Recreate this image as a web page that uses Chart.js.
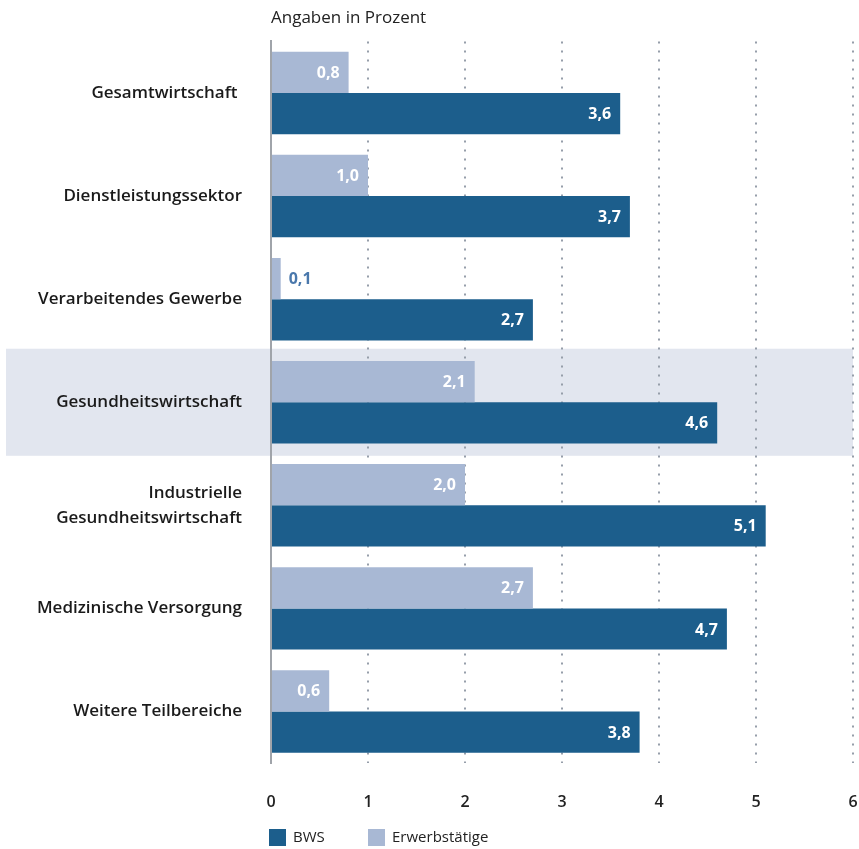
<!DOCTYPE html>
<html>
<head>
<meta charset="utf-8">
<script src="https://cdn.jsdelivr.net/npm/chart.js@4"></script>
<style>
  html, body { margin: 0; padding: 0; background: #fff; }
  #wrap { width: 859px; height: 849px; }
</style>
</head>
<body>
<div id="wrap"><canvas id="myChart1" width="859" height="849"></canvas></div>
<script>
const ctx = document.getElementById("myChart1").getContext("2d");

const labels = [
  "Gesamtwirtschaft ",
  "Dienstleistungssektor",
  "Verarbeitendes Gewerbe",
  "Gesundheitswirtschaft",
  ["Industrielle", "Gesundheitswirtschaft"],
  "Medizinische Versorgung",
  "Weitere Teilbereiche",
];
const erwerbstaetige = [0.8, 1.0, 0.1, 2.1, 2.0, 2.7, 0.6];
const bws = [3.6, 3.7, 2.7, 4.6, 5.1, 4.7, 3.8];
const xTicks = [0, 1, 2, 3, 4, 5, 6];
const highlightIndex = 3;

const darkBlue = "rgb(28, 94, 140)";
const lightBlue = "rgb(168, 184, 212)";
const fontFamily = "'Open Sans', sans-serif";

const fmt = (v) => v.toFixed(1).replace(".", ",");

// grey band behind the highlighted category
const bandPlugin = {
  id: "band",
  beforeDraw(chart) {
    const c = chart.ctx;
    const y = chart.scales.y;
    const half = (y.getPixelForTick(1) - y.getPixelForTick(0)) / 2;
    const cy = y.getPixelForTick(highlightIndex);
    c.save();
    c.fillStyle = "rgb(226, 230, 239)";
    c.fillRect(6, cy - half - 2, chart.chartArea.right - 6, half * 2 + 4);
    c.restore();
  },
};

// value labels, axis title and legend
const labelPlugin = {
  id: "labels",
  afterDatasetsDraw(chart) {
    const c = chart.ctx;
    c.save();
    c.font = "bold 16px " + fontFamily;
    c.textBaseline = "middle";
    chart.data.datasets.forEach((ds, di) => {
      const meta = chart.getDatasetMeta(di);
      meta.data.forEach((bar, i) => {
        const v = ds.data[i];
        const txt = fmt(v);
        const w = c.measureText(txt).width;
        if (bar.x - bar.base > w + 16) {
          c.fillStyle = "#fff";
          c.textAlign = "right";
          c.fillText(txt, bar.x - 9, bar.y + 1);
        } else {
          c.fillStyle = "rgb(74, 120, 172)";
          c.textAlign = "left";
          c.fillText(txt, bar.x + 8, bar.y + 1);
        }
      });
    });
    c.restore();
  },
  afterDraw(chart) {
    const c = chart.ctx;
    const left = chart.chartArea.left;
    c.save();
    c.fillStyle = "#222";
    c.font = "17px " + fontFamily;
    c.textBaseline = "middle";
    c.textAlign = "left";
    c.fillText("Angaben in Prozent", left, 18);

    // legend
    c.font = "15px " + fontFamily;
    const items = [
      { text: "BWS", color: darkBlue, x: left - 2 },
      { text: "Erwerbstätige", color: lightBlue, x: left + 97 },
    ];
    items.forEach((it) => {
      c.fillStyle = it.color;
      c.fillRect(it.x, 829, 17, 17);
      c.fillStyle = "#222";
      c.fillText(it.text, it.x + 24, 838);
    });
    c.restore();
  },
};

const data = {
  labels: labels,
  datasets: [
    {
      label: "Erwerbstätige",
      data: erwerbstaetige,
      backgroundColor: lightBlue,
      barPercentage: 1,
      categoryPercentage: 0.8,
    },
    {
      label: "BWS",
      data: bws,
      backgroundColor: darkBlue,
      barPercentage: 1,
      categoryPercentage: 0.8,
    },
  ],
};

const config = {
  type: "bar",
  data: data,
  options: {
    indexAxis: "y",
    responsive: false,
    animation: false,
    layout: { padding: { top: 40, right: 6, left: 0, bottom: 0 } },
    plugins: {
      legend: { display: false },
      tooltip: { enabled: false },
    },
    scales: {
      x: {
        min: 0,
        max: 6,
        afterBuildTicks(scale) {
          scale.ticks = xTicks.map((v) => ({ value: v }));
        },
        afterFit(scale) {
          scale.height = 86;
        },
        border: { display: false, dash: [2, 7] },
        grid: {
          drawTicks: true,
          tickLength: 30,
          tickColor: "rgba(0,0,0,0)",
          color: (c) => (c.tick && c.tick.value === 0 ? "rgba(0,0,0,0)" : "rgb(150, 158, 170)"),
          lineWidth: 2,
        },
        ticks: {
          padding: 0,
          color: "#222",
          font: { family: fontFamily, size: 16, weight: "600" },
        },
      },
      y: {
        afterFit(scale) {
          scale.width = 271;
        },
        border: { display: true, color: "rgb(160, 164, 170)", width: 2 },
        grid: { display: false, drawTicks: false },
        ticks: {
          padding: 29,
          color: "#1a1a1a",
          font: { family: fontFamily, size: 17, weight: "600", lineHeight: 1.47 },
        },
      },
    },
  },
  plugins: [bandPlugin, labelPlugin],
};

const myChart1 = new Chart(ctx, config);
</script>
</body>
</html>
